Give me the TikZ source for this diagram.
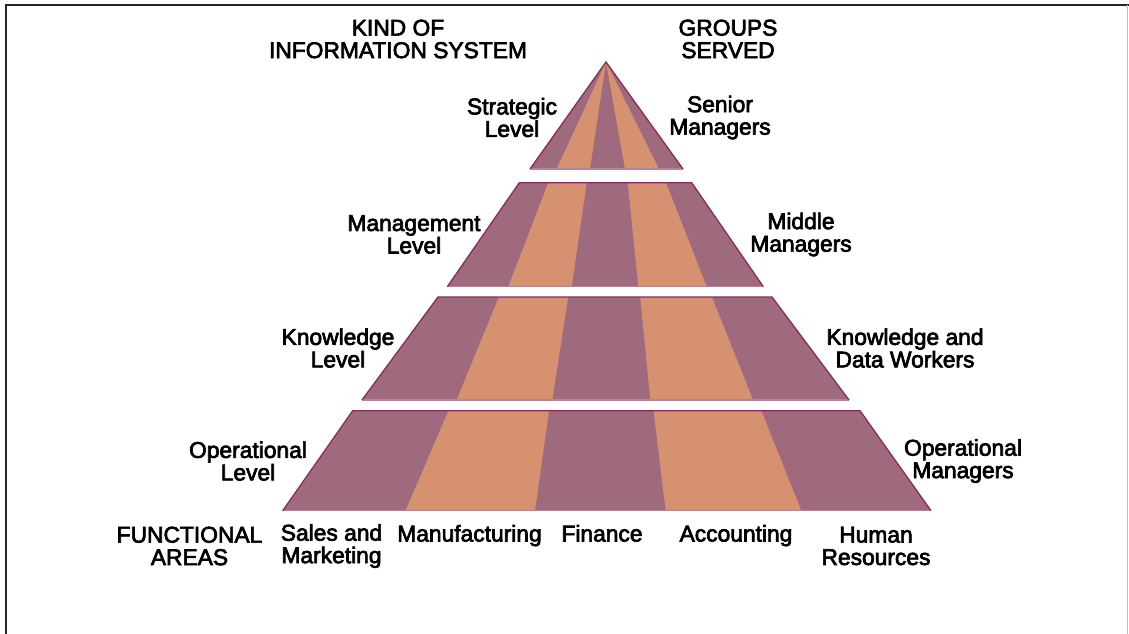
\documentclass[tikz,border=0pt]{standalone}
\usepackage{fontspec}
\setmainfont{Liberation Sans}
\newfontfamily\labfont[FakeBold=3]{Liberation Sans}
\definecolor{mauve}{RGB}{160,106,126}
\definecolor{peach}{RGB}{214,145,112}
\definecolor{rim}{RGB}{140,42,90}
\definecolor{base}{RGB}{176,134,152}
\tikzset{
  lab/.style={align=center,inner sep=0pt,font=\labfont\fontsize{22.8}{22.5}\selectfont},
  band/.style={fill=mauve},
  stripe/.style={fill=peach},
  edge/.style={draw=rim,line width=1.3pt,line join=miter},
  baseline/.style={draw=base,line width=1.5pt},
}
\begin{document}
\begin{tikzpicture}[x=1pt,y=-1pt]
\useasboundingbox (0,0) rectangle (1129,634);
\fill[white] (0,0) rectangle (1129,634);
% frame
\draw[line width=2pt,black!85] (5.5,634) -- (5.5,5) -- (1129,5);
\draw[line width=1pt,black!25] (1127.5,5) -- (1127.5,634);

% band 1 (strategic)
\coordinate (a1) at (606,62);
\coordinate (b1l) at (530,169);
\coordinate (b1r) at (683,169);
\fill[band] (a1) -- (b1l) -- (b1r) -- cycle;
\fill[stripe] (a1) -- (556.7,169) -- (590,169) -- cycle;
\fill[stripe] (a1) -- (625,169) -- (659,169) -- cycle;
\draw[baseline] (b1l) -- (b1r);
\draw[edge] (b1l) -- (a1) -- (b1r);

% band 2 (management)
\coordinate (t2l) at (519.3,182.7);
\coordinate (t2r) at (691.7,182.7);
\coordinate (b2l) at (447.3,286.7);
\coordinate (b2r) at (763.3,286.7);
\fill[band] (t2l) -- (t2r) -- (b2r) -- (b2l) -- cycle;
\fill[stripe] (548.3,182.7) -- (586.7,182.7) -- (571.7,286.7) -- (508.3,286.7) -- cycle;
\fill[stripe] (627.7,182.7) -- (666,182.7) -- (706.7,286.7) -- (638.3,286.7) -- cycle;
\draw[baseline] (b2l) -- (b2r);
\draw[edge] (b2l) -- (t2l) -- (t2r) -- (b2r);

% band 3 (knowledge)
\coordinate (t3l) at (438,297);
\coordinate (t3r) at (772,297);
\coordinate (b3l) at (362,400);
\coordinate (b3r) at (849,400);
\fill[band] (t3l) -- (t3r) -- (b3r) -- (b3l) -- cycle;
\fill[stripe] (498.9,297) -- (568.2,297) -- (552.3,400) -- (456.6,400) -- cycle;
\fill[stripe] (640.2,297) -- (711.9,297) -- (753.1,400) -- (650.3,400) -- cycle;
\draw[baseline] (b3l) -- (b3r);
\draw[edge] (b3l) -- (t3l) -- (t3r) -- (b3r);

% band 4 (operational)
\coordinate (t4l) at (352.7,410.7);
\coordinate (t4r) at (860,410.7);
\coordinate (b4l) at (282.7,510.7);
\coordinate (b4r) at (931,510.7);
\fill[band] (t4l) -- (t4r) -- (b4r) -- (b4l) -- cycle;
\fill[stripe] (448.5,410.7) -- (549,410.7) -- (535,510.7) -- (405.5,510.7) -- cycle;
\fill[stripe] (653.5,410.7) -- (761.3,410.7) -- (801.3,510.7) -- (665.7,510.7) -- cycle;
\draw[baseline] (b4l) -- (b4r);
\draw[edge] (b4l) -- (t4l) -- (t4r) -- (b4r);

% headers
\node[lab] (kind) at (398,39) {KIND OF\\INFORMATION SYSTEM};
\node[lab] (groups) at (728,39) {GROUPS\\SERVED};
% levels
\node[lab] (strat) at (512,117.5) {Strategic\\Level};
\node[lab] (senior) at (720,117.5) {Senior\\Managers};
\node[lab] (mgmt) at (414,234.5) {Management\\Level};
\node[lab] (middle) at (801,234.5) {Middle\\Managers};
\node[lab] (know) at (338,348) {Knowledge\\Level};
\node[lab] (kdw) at (905,348) {Knowledge and\\Data Workers};
\node[lab] (oper) at (248,461) {Operational\\Level};
\node[lab] (opm) at (963,461) {Operational\\Managers};
% functional areas
\node[lab] (func) at (189.5,546) {FUNCTIONAL\\AREAS};
\node[lab] (sales) at (331.5,546) {Sales and\\Marketing};
\node[lab,anchor=base] (manu) at (469.5,541.5) {Manufacturing};
\node[lab,anchor=base] (fin) at (602,541.5) {Finance};
\node[lab,anchor=base] (acc) at (736,541.5) {Accounting};
\node[lab] (hr) at (876,546) {Human\\Resources};
\end{tikzpicture}
\end{document}
